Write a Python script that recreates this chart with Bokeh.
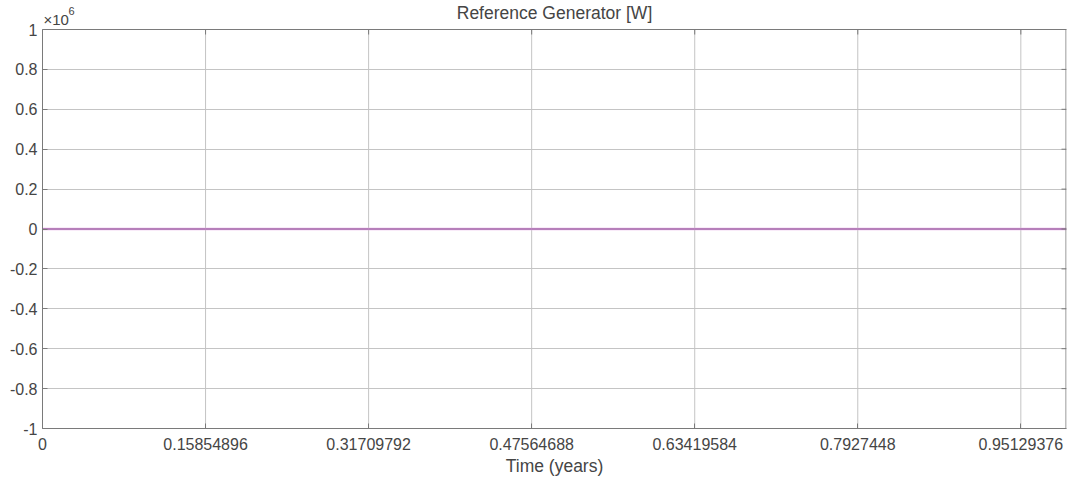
from bokeh.plotting import figure
from bokeh.models import Range1d, FixedTicker
from bokeh.core.properties import value
from bokeh.embed import file_html
from bokeh.resources import INLINE

# data (time in years, power in W)
time_years = [0.0, 0.15854896, 0.31709792, 0.47564688, 0.63419584, 0.7927448, 0.95129376, 0.9957]
power_w = [0, 0, 0, 0, 0, 0, 0, 0]

x_ticks = [0.0, 0.15854896, 0.31709792, 0.47564688, 0.63419584, 0.7927448, 0.95129376]
x_tick_labels = ["0", "0.15854896", "0.31709792", "0.47564688", "0.63419584", "0.7927448", "0.95129376"]
y_ticks = [-1e6, -8e5, -6e5, -4e5, -2e5, 0, 2e5, 4e5, 6e5, 8e5, 1e6]
y_tick_labels = ["-1", "-0.8", "-0.6", "-0.4", "-0.2", "0", "0.2", "0.4", "0.6", "0.8", "1"]
title_text = "Reference Generator [W]"
x_label = "Time (years)"

FONT = "Liberation Sans"
TXT = "#454545"
AX = "#7a7a7a"
GRID = "#c4c4c4"

X0, X1 = 0.0, 0.9957
Y0, Y1 = -1e6, 1e6
W, H = 1068, 479
BL, BR, BB = 42, 2, 51
TOP_PX = 29                     # box top below canvas top
frame_w = W - BL - BR
frame_h = H - BB                # frame spans from canvas top
box_h = frame_h - TOP_PX
ypp = (Y1 - Y0) / box_h         # data units per pixel (y)
xpp = (X1 - X0) / frame_w       # data units per pixel (x)
y_top = Y1 + TOP_PX * ypp

p = figure(width=W, height=H, output_backend="svg", toolbar_location=None,
           title_location=None,
           x_range=Range1d(X0, X1), y_range=Range1d(Y0, y_top),
           min_border_left=BL, min_border_right=BR, min_border_top=0, min_border_bottom=BB)

# vertical grid lines (restricted to the box)
p.segment(x0=x_ticks, x1=x_ticks, y0=[Y0] * len(x_ticks), y1=[Y1] * len(x_ticks),
          line_color=GRID, line_width=1)
p.xgrid.visible = False
p.ygrid.ticker = FixedTicker(ticks=y_ticks)
p.ygrid.grid_line_color = GRID

# data line
p.line(time_years, power_w, line_color="#e6aee6", line_width=2.4)
p.line(time_years, power_w, line_color="#86508f", line_width=1)

# box: top and right edges + inward ticks
p.segment(x0=[X0], x1=[X1], y0=[Y1], y1=[Y1], line_color=AX, line_width=1)
p.segment(x0=[X1 - 0.5 * xpp], x1=[X1 - 0.5 * xpp], y0=[Y0], y1=[Y1], line_color=AX, line_width=1)
p.segment(x0=x_ticks, x1=x_ticks, y0=[Y1] * len(x_ticks), y1=[Y1 - 5 * ypp] * len(x_ticks),
          line_color=AX, line_width=1)
p.segment(x0=[X1 - 5 * xpp] * len(y_ticks), x1=[X1] * len(y_ticks), y0=y_ticks, y1=y_ticks,
          line_color=AX, line_width=1)

# axes
p.xaxis.ticker = FixedTicker(ticks=x_ticks)
p.xaxis.major_label_overrides = {t: l for t, l in zip(x_ticks, x_tick_labels)}
p.yaxis.ticker = FixedTicker(ticks=y_ticks)
p.yaxis.major_label_overrides = {t: l for t, l in zip(y_ticks, y_tick_labels)}
p.yaxis.bounds = (Y0, Y1)
p.xaxis.axis_label = x_label

for ax in (p.xaxis, p.yaxis):
    ax.major_label_text_font = FONT
    ax.major_label_text_font_size = "16px"
    ax.major_label_text_color = TXT
    ax.axis_label_text_font = FONT
    ax.axis_label_text_font_size = "17.5px"
    ax.axis_label_text_font_style = "normal"
    ax.axis_label_text_color = TXT
    ax.axis_line_color = AX
    ax.major_tick_line_color = AX
    ax.major_tick_in = 5
    ax.major_tick_out = 0
    ax.minor_tick_line_color = None
p.yaxis.major_label_standoff = 5
p.xaxis.major_label_standoff = 9
p.xaxis.axis_label_standoff = 3

p.outline_line_color = None
p.background_fill_color = "white"
p.border_fill_color = "white"

# title and exponent (drawn inside the extended frame, above the box)
p.text(x=[(X0 + X1) / 2], y=[Y1 + 16.5 * ypp], text=[title_text],
       text_font=value(FONT), text_font_size=value("17.5px"), text_color=TXT,
       text_align="center", text_baseline="middle")
p.text(x=[X0 + 1 * xpp], y=[Y1 + 10 * ypp], text=["\u00d710"],
       text_font=value(FONT), text_font_size=value("15px"), text_color=TXT,
       text_align="left", text_baseline="alphabetic")
p.text(x=[X0 + 26 * xpp], y=[Y1 + 19 * ypp], text=["6"],
       text_font=value(FONT), text_font_size=value("11px"), text_color=TXT,
       text_align="left", text_baseline="alphabetic")

open("out.html", "w").write(file_html(p, INLINE))
